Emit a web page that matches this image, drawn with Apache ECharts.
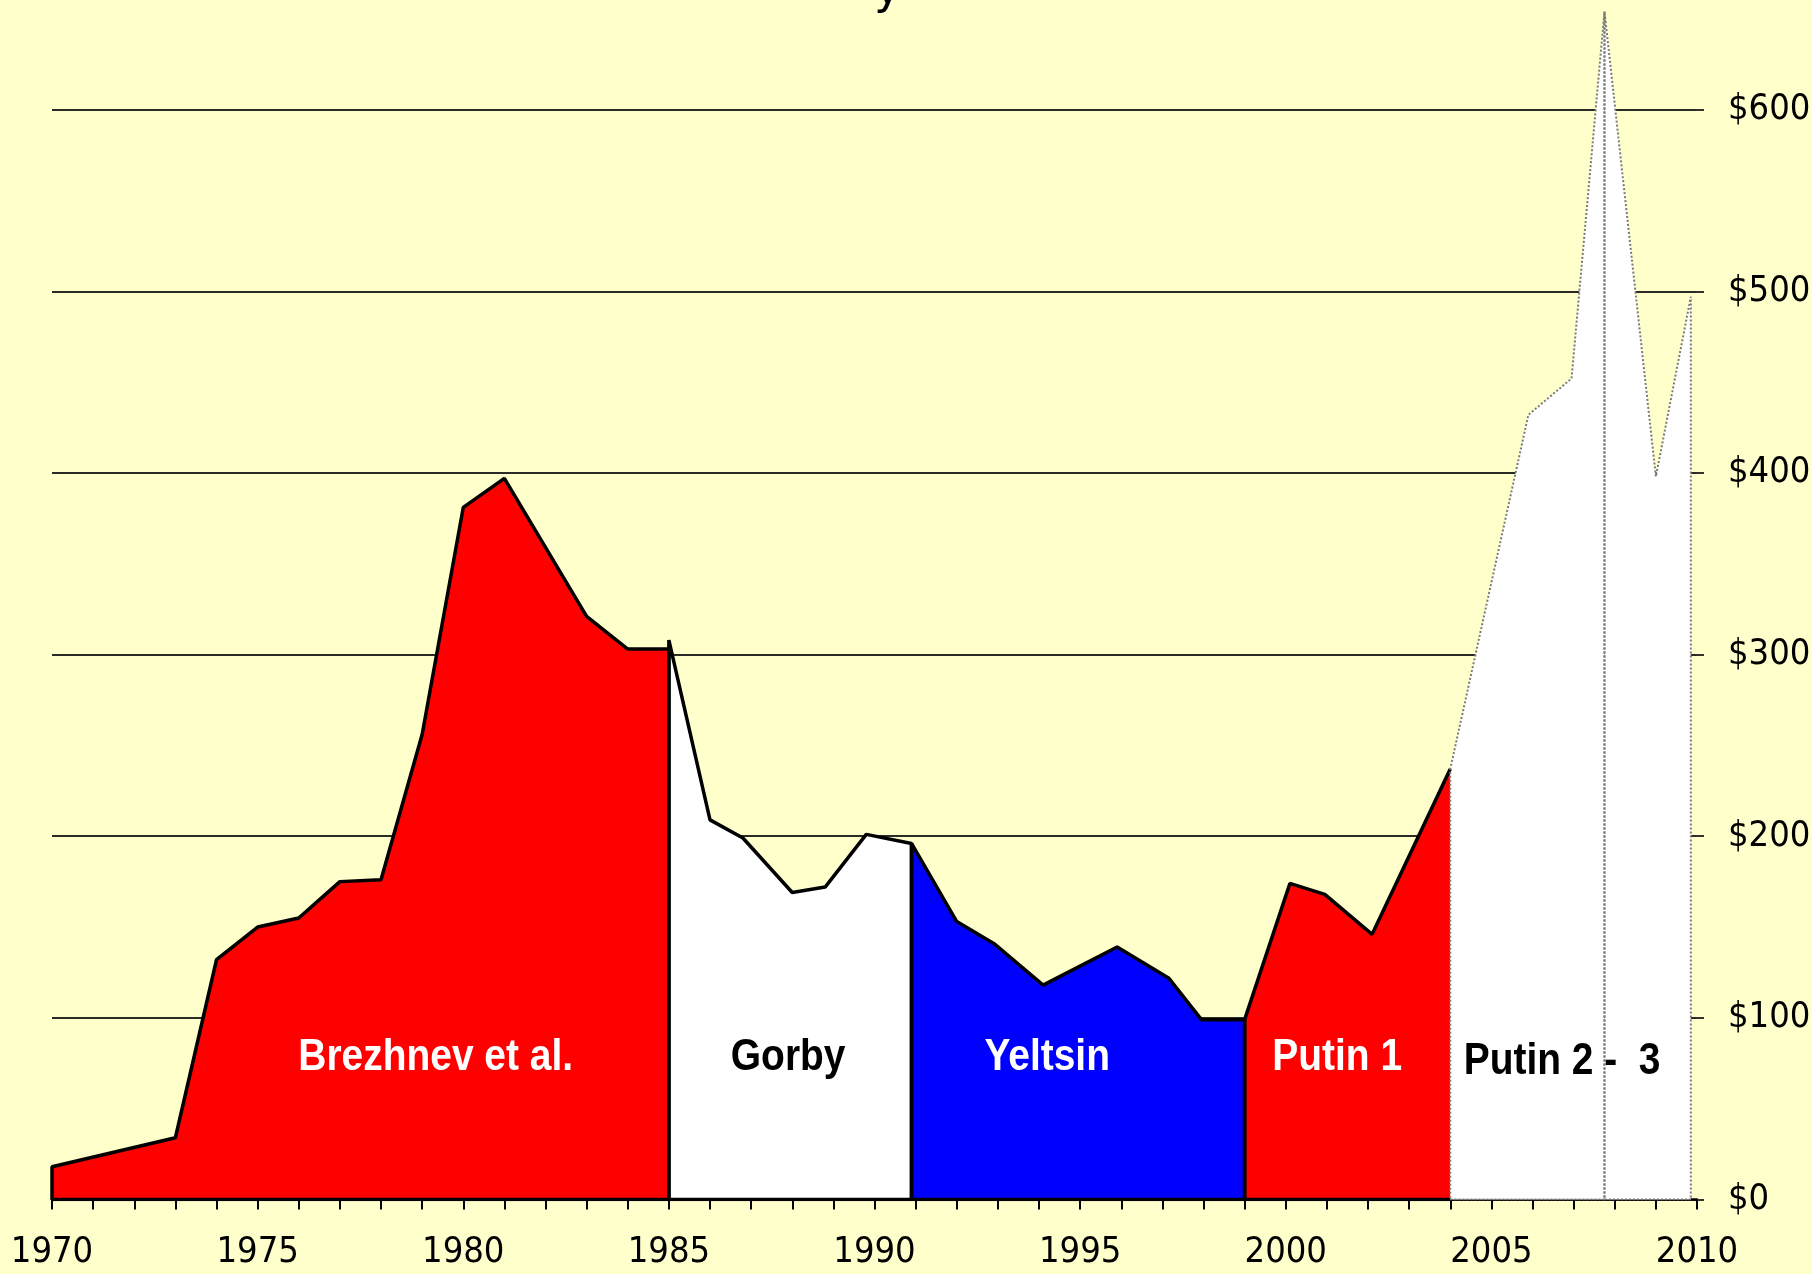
<!DOCTYPE html>
<html>
<head>
<meta charset="utf-8">
<script src="https://cdn.jsdelivr.net/npm/echarts@6/dist/echarts.min.js"></script>
<style>
html, body { margin: 0; padding: 0; background: #ffffcc; }
#chart { width: 1812px; height: 1274px; }
</style>
</head>
<body>
<div id="chart"></div>
<script>
// vertices of each era's outline, [year, $]
const brezhnevYears = [1970, 1973, 1974, 1975, 1976, 1977, 1978, 1979, 1980, 1981, 1983, 1984, 1985];
const brezhnevValues = [18, 34, 132, 150, 155, 175, 176, 256, 381, 397, 321, 303, 303];

const gorbyYears = [1985, 1986, 1986.8, 1988, 1988.8, 1989.8, 1990.9];
const gorbyValues = [308, 209, 199, 169, 172, 201, 196];

const yeltsinYears = [1990.9, 1992, 1992.9, 1994.1, 1995.9, 1997.15, 1997.95, 1999];
const yeltsinValues = [196, 153, 141, 118, 139, 122, 99, 99];

const putin1Years = [1999, 2000.1, 2000.95, 2002.1, 2004];
const putin1Values = [99, 174, 168, 146, 237];

const putin2Years = [2004, 2005.9, 2006.95, 2007.75];
const putin2Values = [237, 432, 452, 654];

const putin3Years = [2007.75, 2009, 2009.85];
const putin3Values = [654, 398, 497];

const eraNames = ['Brezhnev et al.', 'Gorby', 'Yeltsin', 'Putin 1', 'Putin 2 -  3'];
const eraLabelYears = [1979.33, 1987.9, 1994.2, 2001.25, 2006.72];
const eraLabelValues = [78, 78, 78, 78, 76];

const yTicks = ['$0', '$100', '$200', '$300', '$400', '$500', '$600', '$700'];

const axisFont = 'DejaVu Sans Condensed';
const labelFont = '"Liberation Sans", Arial, sans-serif';

// outline goes bottom -> left edge -> top (-> right edge)
function eraSeries(name, years, values, fill, line, closeRight) {
    const last = years[years.length - 1];
    const pts = [[last, 0], [years[0], 0]];
    years.forEach(function (y, i) { pts.push([y, values[i]]); });
    if (closeRight) {
        pts.push([last, 0]);
    }
    return {
        type: 'line',
        name: name,
        data: pts,
        symbol: 'none',
        silent: true,
        lineStyle: line,
        areaStyle: { color: fill, opacity: 1 }
    };
}

const solid = { color: '#000', width: 3.5 };
const dotted = { color: '#7a7a7a', width: 2, type: 'dotted' };

const labelColors = ['#fff', '#000', '#fff', '#fff', '#000'];

const chart = echarts.init(document.getElementById('chart'));
chart.setOption({
    backgroundColor: '#ffffcc',
    animation: false,
    grid: { left: 52, right: 115, top: -72, bottom: 74.5, outerBoundsMode: 'none', containLabel: false },
    graphic: [{
        // only the tail of the cropped title shows
        type: 'text',
        style: { text: 'y', x: 874, y: 14, fontSize: 46, fontFamily: 'DejaVu Sans', fill: '#000', verticalAlign: 'bottom' }
    }],
    xAxis: {
        type: 'value',
        min: 1970,
        max: 2010,
        interval: 5,
        axisLine: { lineStyle: { color: '#000', width: 2.5 } },
        axisTick: { length: 10, lineStyle: { color: '#000', width: 2 } },
        minorTick: { show: true, splitNumber: 5, length: 10, lineStyle: { color: '#000', width: 2 } },
        splitLine: { show: false },
        axisLabel: {
            fontFamily: axisFont, fontSize: 36, color: '#000', margin: 35,
            formatter: function (v) { return String(v); }
        }
    },
    yAxis: {
        type: 'value',
        position: 'right',
        min: 0,
        max: 700,
        interval: 100,
        axisLine: { show: false },
        axisTick: { show: true, length: 7, lineStyle: { color: '#333', width: 2 } },
        splitLine: { lineStyle: { color: '#2a2a26', width: 2.2 } },
        axisLabel: {
            fontFamily: axisFont, fontSize: 36, color: '#000', margin: 31,
            formatter: function (v) { return yTicks[v / 100]; }
        }
    },
    series: [
        eraSeries('Brezhnev', brezhnevYears, brezhnevValues, '#ff0000', solid, true),
        eraSeries('Gorby', gorbyYears, gorbyValues, '#ffffff', solid, true),
        eraSeries('Yeltsin', yeltsinYears, yeltsinValues, '#0000ff', solid, true),
        eraSeries('Putin 1', putin1Years, putin1Values, '#ff0000', solid, false),
        eraSeries('Putin 2', putin2Years, putin2Values, '#ffffff', dotted, true),
        eraSeries('Putin 3', putin3Years, putin3Values, '#ffffff', dotted, true),
        {
            // era names, squeezed horizontally like the original
            type: 'custom',
            silent: true,
            z: 10,
            data: eraNames.map(function (n, i) { return [eraLabelYears[i], eraLabelValues[i], i]; }),
            renderItem: function (params, api) {
                const p = api.coord([api.value(0), api.value(1)]);
                const i = api.value(2);
                return {
                    type: 'text',
                    x: p[0],
                    y: p[1],
                    scaleX: 0.865,
                    style: {
                        text: eraNames[i],
                        fill: labelColors[i],
                        fontFamily: labelFont,
                        fontWeight: 'bold',
                        fontSize: 45,
                        align: 'center',
                        verticalAlign: 'middle'
                    }
                };
            }
        }
    ]
});
</script>
</body>
</html>
